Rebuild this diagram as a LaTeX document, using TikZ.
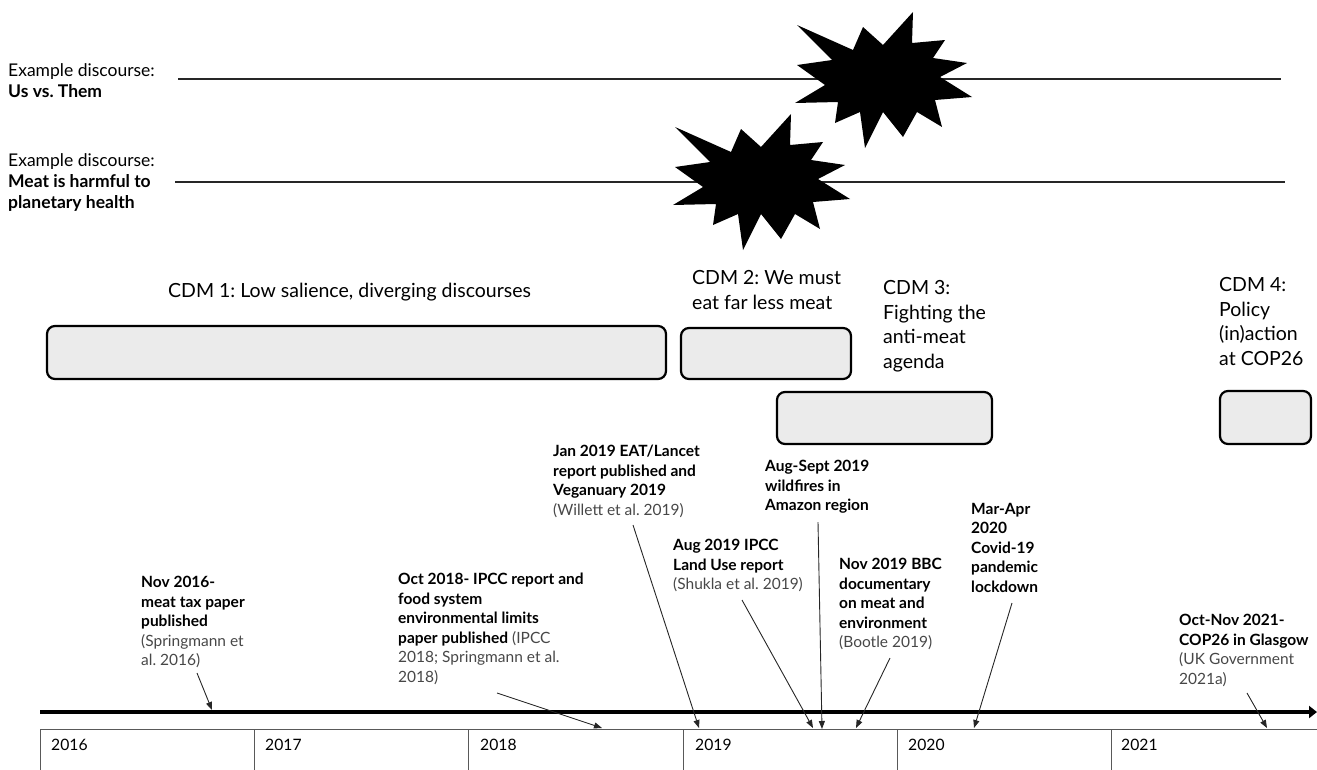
\documentclass[tikz,border=0pt]{standalone}
\usepackage{fontspec}
\setmainfont{Lato}
\usetikzlibrary{arrows.meta}
\definecolor{citec}{gray}{0.28}
\frenchspacing
\begin{document}
\begin{tikzpicture}[x=1pt,y=-1pt,
  evt/.style={anchor=north west,inner sep=0pt,align=left,font=\fontsize{15.5}{19.5}\selectfont},
  cdm/.style={anchor=north west,inner sep=0pt,align=left,font=\fontsize{19.5}{24.8}\selectfont},
  disc/.style={anchor=north west,inner sep=0pt,align=left,font=\fontsize{17.5}{21}\selectfont},
  yr/.style={anchor=west,inner sep=0pt,font=\fontsize{15.7}{18}\selectfont},
  cdmbox/.style={draw=black,line width=2.2pt,rounded corners=8pt,fill=black!8,inner sep=0pt},
  ptr/.style={draw=black!85,line width=0.9pt,-{Triangle[length=8pt,width=6pt]}},
  discline/.style={draw=black!85,line width=1.8pt},
  gridline/.style={draw=black!65,line width=1pt},
  pics/starburst/.style={code={
    \fill[black] (797,25) -- (853,50) -- (863,27) -- (883,45) -- (913,12) -- (912,43)
      -- (945,40) -- (933,58) -- (967,63) -- (940,77) -- (972,97) -- (935,100)
      -- (942,127) -- (917,112) -- (903,137) -- (883,112) -- (865,148) -- (860,112)
      -- (835,123) -- (838,102) -- (795,103) -- (825,85) -- (797,65) -- (832,60) -- cycle;
  }}
]
\useasboundingbox (0,0) rectangle (1317,769);

% discourse lines
\node[disc] (d1) at (8,63) {Example discourse:\\\textbf{Us vs. Them}};
\node[disc] (d2) at (8,153) {Example discourse:\\\textbf{Meat is harmful to}\\\textbf{planetary health}};
\coordinate (l1s) at (178,79);
\coordinate (l1e) at (1281,79);
\coordinate (l2s) at (175,182);
\coordinate (l2e) at (1285,182);
\draw[discline] (l1s) -- (l1e);
\draw[discline] (l2s) -- (l2e);
\pic at (0,0) {starburst};
\pic at (-122,102) {starburst};

% CDM labels and boxes
\node[cdm,anchor=west] (c1) at (168,292) {CDM 1: Low salience, diverging discourses};
\node[cdm] (c2) at (692,270) {CDM 2: We must\\eat far less meat};
\node[cdm] (c3) at (883,280) {CDM 3:\\Fighting the\\anti-meat\\agenda};
\node[cdm] (c4) at (1219,277) {CDM 4:\\Policy\\(in)action\\at COP26};
\node[cdmbox,minimum width=619pt,minimum height=53pt] (b1) at (356.5,352.5) {};
\node[cdmbox,minimum width=170pt,minimum height=51pt] (b2) at (766,353.5) {};
\node[cdmbox,minimum width=215pt,minimum height=52pt] (b3) at (884.5,418) {};
\node[cdmbox,minimum width=91pt,minimum height=53pt] (b4) at (1265.5,417.5) {};

% timeline
\coordinate (tl0) at (40,712);
\coordinate (tl1) at (1317,712);
\draw[line width=4pt,-{Triangle[length=8pt,width=12pt]}] (tl0) -- (tl1);

% year table
\draw[gridline] (40,780) -- (40,729) -- (1325,729);
\foreach \xx in {254,468,683,897,1111} \draw[gridline] (\xx,729) -- (\xx,780);
\node[yr] (y16) at (51,745) {2016};
\node[yr] (y17) at (265,745) {2017};
\node[yr] (y18) at (480,745) {2018};
\node[yr] (y19) at (695,745) {2019};
\node[yr] (y20) at (908,745) {2020};
\node[yr] (y21) at (1121,745) {2021};

% events
\node[evt] (e1) at (141,576) {\textbf{Nov 2016-}\\\textbf{meat tax paper}\\\textbf{published}\\\textcolor{citec}{(Springmann et}\\\textcolor{citec}{al. 2016)}};
\node[evt] (e2) at (398,573) {\textbf{Oct 2018- IPCC report and}\\\textbf{food system}\\\textbf{environmental limits}\\\textbf{paper published} \textcolor{citec}{(IPCC}\\\textcolor{citec}{2018; Springmann et al.}\\\textcolor{citec}{2018)}};
\node[evt] (e3) at (553,445) {\textbf{Jan 2019 EAT/Lancet}\\\textbf{report published and}\\\textbf{Veganuary 2019}\\\textcolor{citec}{(Willett et al. 2019)}};
\node[evt] (e4) at (673,539) {\textbf{Aug 2019 IPCC}\\\textbf{Land Use report}\\\textcolor{citec}{(Shukla et al. 2019)}};
\node[evt] (e5) at (765,460) {\textbf{Aug-Sept 2019}\\\textbf{wildfires in}\\\textbf{Amazon region}};
\node[evt] (e6) at (839,558) {\textbf{Nov 2019 BBC}\\\textbf{documentary}\\\textbf{on meat and}\\\textbf{environment}\\\textcolor{citec}{(Bootle 2019)}};
\node[evt] (e7) at (971,503) {\textbf{Mar-Apr}\\\textbf{2020}\\\textbf{Covid-19}\\\textbf{pandemic}\\\textbf{lockdown}};
\node[evt] (e8) at (1179,614) {\textbf{Oct-Nov 2021-}\\\textbf{COP26 in Glasgow}\\\textcolor{citec}{(UK Government}\\\textcolor{citec}{2021a)}};

% pointer arrows
\coordinate (a1s) at (197,673); \coordinate (a1e) at (212,710);
\coordinate (a2s) at (497,693); \coordinate (a2e) at (602,728);
\coordinate (a3s) at (633,525); \coordinate (a3e) at (699,728);
\coordinate (a4s) at (742,600); \coordinate (a4e) at (813,728);
\coordinate (a5s) at (818,522); \coordinate (a5e) at (822,729);
\coordinate (a6s) at (890,658); \coordinate (a6e) at (856,728);
\coordinate (a7s) at (1012,603); \coordinate (a7e) at (974,728);
\coordinate (a8s) at (1247,693); \coordinate (a8e) at (1267,728);
\draw[ptr] (a1s) -- (a1e);
\draw[ptr] (a2s) -- (a2e);
\draw[ptr] (a3s) -- (a3e);
\draw[ptr] (a4s) -- (a4e);
\draw[ptr] (a5s) -- (a5e);
\draw[ptr] (a6s) -- (a6e);
\draw[ptr] (a7s) -- (a7e);
\draw[ptr] (a8s) -- (a8e);
\end{tikzpicture}
\end{document}
